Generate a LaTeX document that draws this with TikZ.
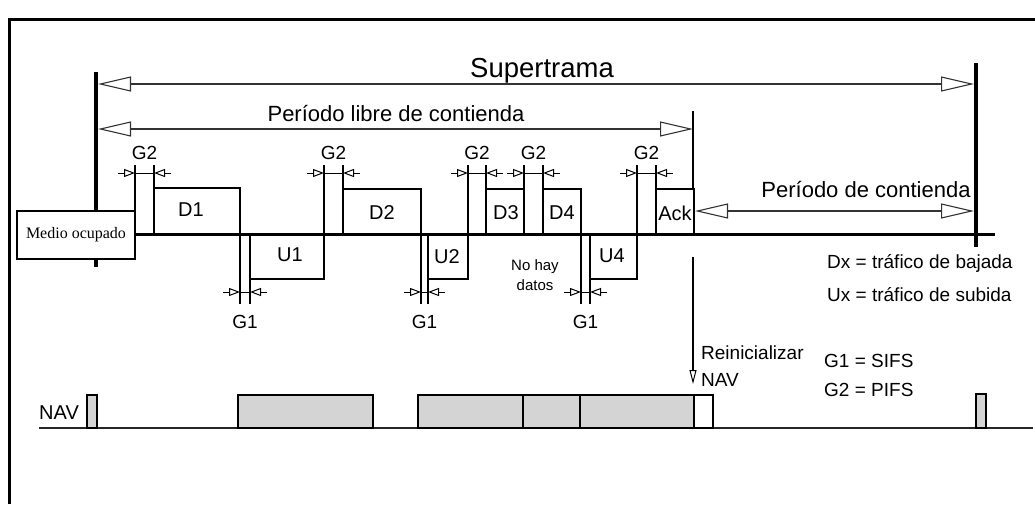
\documentclass[tikz,border=0pt]{standalone}
\usepackage{fontspec}
\setmainfont{Liberation Sans}
\newfontfamily\mserif{Liberation Serif}
\usetikzlibrary{arrows.meta}
\tikzset{
  bigtip/.tip={Triangle[open,length=33pt,width=15pt,line width=1.1pt]},
  smalltip/.tip={Triangle[open,length=11pt,width=8pt,line width=1pt]},
  navtip/.tip={Triangle[open,length=14pt,width=7pt,line width=1pt]}
}
\begin{document}
\begin{tikzpicture}[x=1pt,y=-1pt,
  frameln/.style={line width=3pt},
  barln/.style={line width=4pt},
  baseln/.style={line width=3pt},
  boxln/.style={line width=2pt},
  vln/.style={line width=1.6pt},
  thinarr/.style={line width=1.1pt, draw=black!80},
  dimln/.style={line width=1pt},
  lbl/.style={inner sep=0pt, font=\fontsize{19}{19}\selectfont},
  boxlbl/.style={inner sep=0pt, font=\fontsize{20}{20}\selectfont},
  navbox/.style={draw, line width=1.2pt, fill=black!17},
  navwhite/.style={draw, line width=1.2pt, fill=white}
]
\useasboundingbox (0,0) rectangle (1035,504);
\fill[white] (0,0) rectangle (1035,504);

% frame (open at right and bottom)
\draw[frameln] (9,504) -- (9,19) -- (1035,19);

% thick bars
\draw[barln] (96,72) -- (96,267);
\draw[barln] (976,63) -- (976,247);

% main time line
\draw[baseln] (135,234) -- (995,234);

% Medio ocupado
\node[draw, line width=1.5pt, fill=white, minimum width=118pt, minimum height=48pt, inner sep=0pt,
      font=\mserif\fontsize{16}{16}\selectfont] (mo) at (76,235) {Medio ocupado};

% arrow coordinates
\coordinate (stL) at (98,84);
\coordinate (stR) at (974,84);
\coordinate (plL) at (98,129);
\coordinate (plR) at (693,129);
\coordinate (pcR) at (974,211);

% Supertrama
\node[inner sep=0pt, anchor=base, font=\fontsize{27.5}{27.5}\selectfont] (st) at (542,77) {Supertrama};
\draw[thinarr, bigtip-bigtip] (stL) -- (stR);

% Periodo libre de contienda
\node[inner sep=0pt, anchor=base, font=\fontsize{22}{22}\selectfont] (pl) at (396,121) {Período libre de contienda};
\draw[thinarr, bigtip-bigtip] (plL) -- (plR);

% boxes
\draw[boxln] (154,234) rectangle (240,188);
\draw[boxln] (250,234) rectangle (324,279);
\draw[boxln] (343,234) rectangle (421,189);
\draw[boxln] (428,234) rectangle (468,279);
\draw[boxln] (486,234) rectangle (524,189);
\draw[boxln] (543,234) rectangle (581,189);
\draw[boxln] (590,234) rectangle (637,279);
\draw[boxln] (656,234) rectangle (694,189);

\node[boxlbl] (d1) at (191,210) {D1};
\node[boxlbl] (u1) at (290,255) {U1};
\node[boxlbl] (d2) at (382,213) {D2};
\node[boxlbl] (u2) at (447,257) {U2};
\node[boxlbl] (d3) at (506,213) {D3};
\node[boxlbl] (d4) at (562,213) {D4};
\node[boxlbl] (u4) at (612,256) {U4};
\node[boxlbl] (ack) at (675,213) {Ack};

% Periodo de contienda
\coordinate (pcL) at (695,211);
\draw[thinarr, bigtip-bigtip] (pcL) -- (pcR);
\node[inner sep=0pt, anchor=base, font=\fontsize{22}{22}\selectfont] (pc) at (866,197) {Período de contienda};

% Reinicializar NAV line
\draw[line width=1.2pt] (693,111) -- (693,189);
\coordinate (rnTop) at (693,257);
\coordinate (rnTip) at (693,384);
\draw[line width=1.2pt, -navtip] (rnTop) -- (rnTip);
\node[lbl, anchor=west] (rn1) at (701,353) {Reinicializar};
\node[lbl, anchor=west] (rn2) at (701,380) {NAV};

% G2 gaps
\foreach \a/\b/\n in {135/154/1, 324/343/2, 468/486/3, 524/543/4, 637/656/5} {
  \draw[vln] (\a,165) -- (\a,234);
  \draw[vln] (\b,165) -- (\b,234);
  \draw[dimln] (\a,173) -- (\b,173);
  \draw[dimln, -smalltip] (\a-17,173) -- (\a,173);
  \draw[dimln, -smalltip] (\b+17,173) -- (\b,173);
  \node[lbl] (gtwo\n) at ({(\a+\b)/2},153) {G2};
}

% G1 gaps
\foreach \a/\b/\n in {240/250/1, 421/428/2, 581/590/3} {
  \draw[vln] (\a,234) -- (\a,304);
  \draw[vln] (\b,234) -- (\b,304);
  \draw[dimln] (\a,292) -- (\b,292);
  \draw[dimln, -smalltip] (\a-17,292) -- (\a,292);
  \draw[dimln, -smalltip] (\b+17,292) -- (\b,292);
  \node[lbl] (gone\n) at ({(\a+\b)/2},322) {G1};
}

% No hay datos
\node[inner sep=0pt, align=center, font=\fontsize{15}{20}\selectfont] (nhd) at (535,275) {No hay\\datos};

% legend
\node[lbl, anchor=west] (lg1) at (827,263) {Dx = tráfico de bajada};
\node[lbl, anchor=west] (lg2) at (827,295) {Ux = tráfico de subida};
\node[lbl, anchor=west] (lg3) at (824,361) {G1 = SIFS};
\node[lbl, anchor=west] (lg4) at (824,390) {G2 = PIFS};

% NAV row
\node[inner sep=0pt, anchor=west, font=\fontsize{20}{20}\selectfont] (nav) at (39,413) {NAV};
\draw[line width=1.3pt, black!85] (39,428) -- (1033,428);
\draw[navbox] (87,395) rectangle (97,428);
\draw[navbox] (238,395) rectangle (373,428);
\draw[navbox] (418,395) rectangle (694,428);
\draw[line width=1.2pt] (523,395) -- (523,428);
\draw[line width=1.2pt] (580,395) -- (580,428);
\draw[navwhite] (694,395) rectangle (713,428);
\draw[navbox] (976,394) rectangle (986,428);
\end{tikzpicture}
\end{document}
